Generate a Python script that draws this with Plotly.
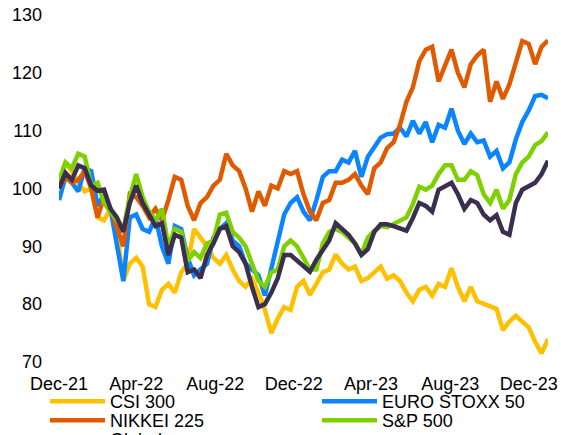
import pandas as pd
import plotly.graph_objects as go

# 10-day sampling from end-Dec 2021 to end-Jan 2024 (indexed, start = 100)
dates = pd.date_range("2021-12-31", periods=77, freq="10D")

csi300 = [101, 104.5, 103, 101, 99.5, 100, 95, 94.5, 96.5, 93,
          84, 87, 88, 86.5, 80, 79.5, 82.5, 83.5, 82, 85.5,
          87, 93, 91.5, 90, 88, 87, 88.5, 86, 84, 83,
          84.4, 82, 79, 75, 77.5, 79.5, 79, 83, 84, 81.6,
          83.5, 85.5, 86, 88.6, 87, 86, 86.5, 84, 84.5, 85.5,
          86.5, 84.4, 85, 84, 82, 80.5, 82.5, 83, 81.5, 83.5,
          83, 86.2, 83, 80.5, 83, 80.5, 80, 79.5, 79.2, 75.5,
          77, 78, 77, 76, 73.5, 71.5, 74]

eurostoxx50 = [98, 102, 101, 99.5, 103.5, 103, 97, 99, 96.5, 90,
               84, 95, 95.5, 93, 92.5, 95, 90, 87, 93.5, 93,
               88, 85, 86, 87, 91.5, 93, 94, 91, 90, 87,
               86, 85, 81.5, 86, 90.5, 95.5, 97.5, 98.5, 96, 94.5,
               98, 102, 103, 103, 105, 104.5, 106.5, 102, 105.5, 107,
               108.8, 109.4, 109.5, 110.5, 109, 111.7, 109.5, 111.5, 108, 111,
               110.5, 113.8, 110, 107.7, 109.5, 108, 108.3, 105.5, 106.5, 103.5,
               104.5, 108.5, 111.5, 113.5, 116, 116.2, 115.6]

nikkei225 = [100, 102, 101, 101.5, 103, 100, 95, 98.5, 96.5, 93.5,
             90, 99, 98.5, 97, 95, 96.5, 94.5, 98, 102, 101.5,
             97, 94.5, 97.5, 98.5, 100.5, 101.5, 106, 104, 103, 100,
             96, 99.5, 97, 100.5, 100, 103, 102.5, 103, 99, 96,
             94.5, 97.5, 98, 101, 101, 101.5, 102.5, 100.5, 99, 103.5,
             104.5, 107, 108, 111, 115, 117.5, 122, 124, 124.5, 118.5,
             121.5, 124, 120, 117.5, 121.5, 123, 124, 115, 118.5, 115.5,
             118, 122, 125.5, 125, 121.5, 124.5, 125.6]

sp500 = [101.3, 104.5, 103.5, 106, 105.5, 100.5, 101, 97.5, 96, 94.5,
         93, 98.5, 102.5, 98.5, 96, 94.5, 96.5, 90, 93, 92.5,
         87.5, 89, 88, 90.5, 91, 95.5, 95.8, 92.5, 91.5, 90,
         87, 84, 83, 85.5, 86, 90, 91, 90, 88, 86,
         86, 90.5, 92.5, 93, 92.5, 91.5, 90.5, 88.6, 91.5, 92.7,
         93.5, 93.3, 93.8, 94.5, 95, 97.3, 100.3, 99.8, 100.5, 102.5,
         104, 104, 101.5, 101.5, 103, 102.3, 99, 97.5, 99.8, 96.5,
         98, 102.5, 104.5, 105.5, 107.5, 108.2, 109.7]

global_eq = [100, 102.7, 101.5, 104, 103.5, 100.5, 99.6, 99.8, 96.5, 95,
             92.5, 97.5, 100.5, 97.5, 95.5, 93.5, 94, 88.5, 92, 91.5,
             85.5, 86, 84.5, 88.5, 90.5, 93, 93.5, 90, 89, 87,
             83, 79.5, 80, 82, 84.5, 88.5, 88.5, 87.5, 86.5, 85.6,
             87.7, 89.5, 91, 94, 93, 92, 90.5, 88.5, 89.5, 92.5,
             93.8, 93.8, 93.5, 93, 92.7, 94.9, 97.5, 97, 96, 99.8,
             100.3, 101, 99, 96.5, 98, 97.5, 95.5, 94.5, 95.4, 92.5,
             92, 97.5, 99.8, 100.3, 101, 102.5, 104.8]

tick_dates = ["2021-12-31", "2022-04-30", "2022-08-31", "2022-12-31",
              "2023-04-30", "2023-08-31", "2023-12-31"]
tick_labels = ["Dec-21", "Apr-22", "Aug-22", "Dec-22", "Apr-23", "Aug-23", "Dec-23"]
y_ticks = [70, 80, 90, 100, 110, 120, 130]

# name, values, colour, legend id
series = [
    ("CSI 300", csi300, "#FFC000", "legend"),
    ("EURO STOXX 50", eurostoxx50, "#0A84FF", "legend2"),
    ("NIKKEI 225", nikkei225, "#E05A00", "legend3"),
    ("S&P 500", sp500, "#7ED000", "legend4"),
    ("Global", global_eq, "#3B2F4F", "legend5"),
]

fig = go.Figure()
for name, vals, col, leg in series:
    fig.add_trace(go.Scatter(x=dates, y=vals, mode="lines", name=name,
                             legend=leg, line=dict(color=col, width=4.5)))

FONT = "Liberation Sans, Arial, sans-serif"
W, H = 561, 435


def leg(xpx, ytop):
    return dict(orientation="v", xref="container", yref="container",
                x=xpx / W, y=1 - ytop / H, xanchor="left", yanchor="top",
                itemwidth=55, font=dict(family=FONT, size=18, color="#000000"),
                bgcolor="rgba(0,0,0,0)", tracegroupgap=0)


fig.update_layout(
    width=W, height=H,
    margin=dict(l=59, r=13, t=15, b=73, autoexpand=False),
    paper_bgcolor="white", plot_bgcolor="white",
    font=dict(family=FONT, size=18, color="#000000"),
    showlegend=True,
    legend=leg(45, 383),
    legend2=leg(317, 383),
    legend3=leg(45, 402),
    legend4=leg(317, 402),
    legend5=leg(45, 421),
    xaxis=dict(type="date", range=[dates[0], dates[-1]],
               tickvals=tick_dates, ticktext=tick_labels,
               showgrid=False, zeroline=False, showline=False,
               ticks="", ticklabelstandoff=9,
               tickfont=dict(family=FONT, size=18, color="#000000")),
    yaxis=dict(range=[70, 130], tickvals=y_ticks,
               showgrid=False, zeroline=False, showline=False,
               ticks="", ticklabelstandoff=16,
               tickfont=dict(family=FONT, size=18, color="#000000")),
)

fig.write_html("out.html",
               config={"displayModeBar": False},
               post_script="document.body.style.margin='0px';"
                           "document.body.style.overflow='hidden';")
